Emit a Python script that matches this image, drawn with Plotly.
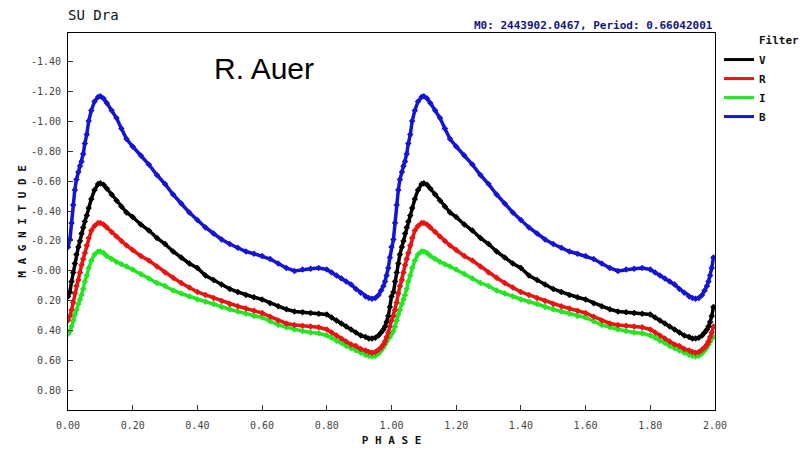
import plotly.graph_objects as go

# SU Dra light curve, phase-folded (one cycle)
PHASE = [0.000, 0.006, 0.011, 0.016, 0.021, 0.026, 0.032, 0.037, 0.042, 0.047,
         0.052, 0.058, 0.064, 0.072, 0.082, 0.093, 0.100, 0.110, 0.120, 0.135,
         0.150, 0.165, 0.181, 0.200, 0.225, 0.250, 0.275, 0.300, 0.325, 0.350,
         0.375, 0.400, 0.425, 0.450, 0.475, 0.500, 0.525, 0.550, 0.575, 0.600,
         0.625, 0.650, 0.675, 0.700, 0.725, 0.750, 0.775, 0.800, 0.815, 0.830,
         0.845, 0.860, 0.875, 0.890, 0.905, 0.920, 0.930, 0.940, 0.950, 0.960,
         0.968, 0.975, 0.980, 0.985, 0.990, 0.995]

MAG_V = [0.17, 0.14, 0.07, 0.01, -0.05, -0.11, -0.16, -0.20, -0.25, -0.29,
         -0.33, -0.37, -0.42, -0.48, -0.54, -0.58, -0.585, -0.575, -0.55, -0.51,
         -0.47, -0.43, -0.39, -0.36, -0.31, -0.27, -0.22, -0.18, -0.13, -0.09,
         -0.05, -0.02, 0.03, 0.06, 0.09, 0.12, 0.14, 0.16, 0.175, 0.19,
         0.215, 0.235, 0.255, 0.27, 0.275, 0.28, 0.285, 0.29, 0.31, 0.33,
         0.35, 0.37, 0.39, 0.41, 0.43, 0.44, 0.45, 0.45, 0.445, 0.43,
         0.41, 0.39, 0.37, 0.34, 0.30, 0.24]

MAG_R = [0.33, 0.30, 0.26, 0.21, 0.15, 0.10, 0.06, 0.01, -0.04, -0.08,
         -0.12, -0.17, -0.22, -0.27, -0.30, -0.32, -0.32, -0.31, -0.29, -0.26,
         -0.23, -0.20, -0.17, -0.14, -0.10, -0.07, -0.03, 0.01, 0.045, 0.08,
         0.11, 0.14, 0.16, 0.18, 0.20, 0.22, 0.235, 0.25, 0.265, 0.28,
         0.305, 0.33, 0.35, 0.36, 0.365, 0.37, 0.375, 0.39, 0.41, 0.43,
         0.45, 0.47, 0.49, 0.50, 0.52, 0.53, 0.54, 0.545, 0.54, 0.525,
         0.51, 0.49, 0.47, 0.44, 0.41, 0.37]

MAG_I = [0.42, 0.40, 0.37, 0.33, 0.29, 0.26, 0.22, 0.19, 0.16, 0.12,
         0.07, 0.03, -0.02, -0.07, -0.11, -0.13, -0.13, -0.12, -0.10, -0.08,
         -0.06, -0.045, -0.03, -0.01, 0.02, 0.05, 0.08, 0.10, 0.13, 0.15,
         0.17, 0.19, 0.205, 0.22, 0.24, 0.255, 0.27, 0.285, 0.30, 0.31,
         0.335, 0.36, 0.375, 0.39, 0.40, 0.41, 0.415, 0.43, 0.445, 0.465,
         0.48, 0.50, 0.515, 0.53, 0.545, 0.56, 0.565, 0.57, 0.565, 0.55,
         0.53, 0.51, 0.49, 0.47, 0.45, 0.44]

MAG_B = [-0.16, -0.21, -0.32, -0.44, -0.54, -0.61, -0.66, -0.70, -0.73, -0.78,
         -0.85, -0.91, -1.00, -1.07, -1.13, -1.16, -1.165, -1.15, -1.12, -1.07,
         -1.02, -0.95, -0.88, -0.83, -0.77, -0.71, -0.64, -0.58, -0.51, -0.45,
         -0.39, -0.34, -0.29, -0.25, -0.21, -0.18, -0.155, -0.13, -0.115, -0.10,
         -0.08, -0.05, -0.02, 0.00, -0.01, -0.015, -0.02, -0.01, 0.01, 0.03,
         0.05, 0.07, 0.09, 0.12, 0.145, 0.17, 0.18, 0.185, 0.18, 0.16,
         0.13, 0.10, 0.07, 0.03, -0.02, -0.09]

FILTERS = ["V", "R", "I", "B"]
COLORS = {"V": "#000000", "R": "#e81414", "I": "#22e622", "B": "#1414d2"}
SERIES = {"V": MAG_V, "R": MAG_R, "I": MAG_I, "B": MAG_B}

Y_TICKS = [-1.4, -1.2, -1.0, -0.8, -0.6, -0.4, -0.2, 0.0, 0.2, 0.4, 0.6, 0.8]
Y_TICKTEXT = ["-1.40", "-1.20", "-1.00", "-0.80", "-0.60", "-0.40", "-0.20",
              "-0.00", "0.20", "0.40", "0.60", "0.80"]
X_TICKS = [0.0, 0.2, 0.4, 0.6, 0.8, 1.0, 1.2, 1.4, 1.6, 1.8, 2.0]

MONO = "DejaVu Sans Mono"

# the folded curve is drawn twice, phase 0-1 and 1-2
x_two = PHASE + [p + 1 for p in PHASE]

fig = go.Figure()

# draw B first so V/R/I sit on top like the original
for f in ["B", "I", "R", "V"]:
    fig.add_trace(go.Scatter(
        x=x_two, y=SERIES[f] + SERIES[f],
        mode="lines+markers",
        line=dict(color=COLORS[f], width=3.5),
        marker=dict(symbol="diamond", size=5, color=COLORS[f]),
        showlegend=False, hoverinfo="skip",
    ))

# legend entries (line samples only)
for f in FILTERS:
    fig.add_trace(go.Scatter(
        x=[None], y=[None], mode="lines", name=f,
        line=dict(color=COLORS[f], width=3),
    ))

fig.update_layout(
    width=811, height=451,
    margin=dict(l=68, r=96, t=33, b=41),
    paper_bgcolor="white", plot_bgcolor="white",
    title=dict(text="SU Dra", x=68 / 811, xanchor="left", y=1 - 15 / 451,
               yanchor="middle", font=dict(family=MONO, size=14, color="#111")),
    legend=dict(x=1.0062, xanchor="left", y=0.968, yanchor="top",
                font=dict(family=MONO, size=11, color="#111", weight="bold"),
                itemwidth=30, bgcolor="rgba(0,0,0,0)", traceorder="normal"),
    xaxis=dict(
        range=[0, 2], tickvals=X_TICKS, tickformat=".2f", automargin=False,
        ticks="inside", ticklen=5, tickcolor="#333", ticklabelstandoff=6,
        showline=True, mirror=True, linecolor="black", linewidth=1,
        showgrid=False, zeroline=False,
        tickfont=dict(family=MONO, size=10, color="#444"),
        title=dict(text="P H A S E", standoff=6,
                   font=dict(family=MONO, size=11, color="#111", weight="bold")),
    ),
    yaxis=dict(
        range=[0.927, -1.587], tickvals=Y_TICKS, ticktext=Y_TICKTEXT,
        automargin=False,
        ticks="inside", ticklen=5, tickcolor="#333", ticklabelstandoff=4,
        showline=True, mirror=True, linecolor="black", linewidth=1,
        showgrid=False, zeroline=False,
        tickfont=dict(family=MONO, size=10, color="#444"),
        title=dict(text="M A G N I T U D E", standoff=2,
                   font=dict(family=MONO, size=11, color="#111", weight="bold")),
    ),
)

fig.add_annotation(text="M0: 2443902.0467, Period: 0.66042001",
                   xref="paper", yref="paper", x=1.0, y=(410 - 25) / 377,
                   xanchor="right", yanchor="middle", showarrow=False,
                   font=dict(family=MONO, size=11, color="#141480", weight="bold"))
fig.add_annotation(text="Filter", xref="paper", yref="paper",
                   x=(757 - 68) / 647, y=(410 - 40) / 377,
                   xanchor="left", yanchor="middle", showarrow=False,
                   font=dict(family=MONO, size=11, color="#111", weight="bold"))
fig.add_annotation(text="R. Auer", xref="paper", yref="paper",
                   x=(264 - 68) / 647, y=(410 - 69) / 377,
                   xanchor="center", yanchor="middle", showarrow=False,
                   font=dict(family="Liberation Sans", size=30, color="black"))

# drop the browser's default body margin so the figure sits at 0,0
fig.write_html("out.html", config={"displayModeBar": False},
               post_script="document.body.style.margin='0';")
